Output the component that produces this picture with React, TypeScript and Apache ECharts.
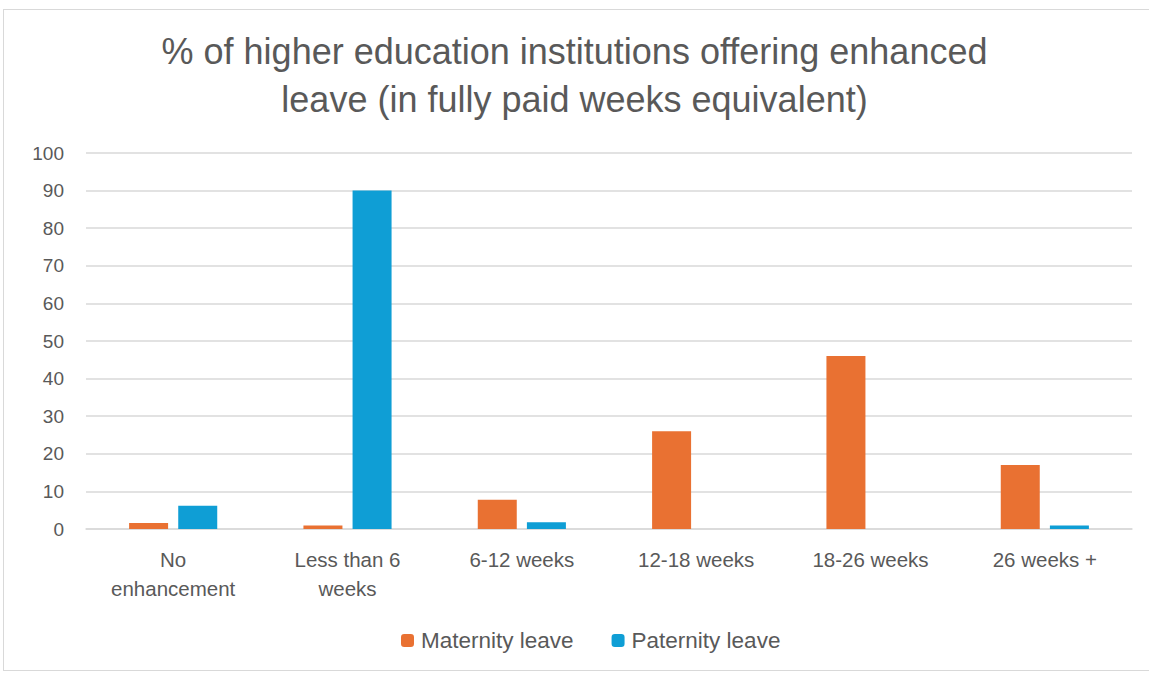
import React, { useEffect, useRef } from "react";
import * as echarts from "echarts";

const categories = ["No\nenhancement", "Less than 6\nweeks", "6-12 weeks", "12-18 weeks", "18-26 weeks", "26 weeks +"];
const maternity = [1.6, 0.9, 7.8, 26, 46, 17];
const paternity = [6.2, 90, 1.8, 0, 0, 0.9];
const titleText = "% of higher education institutions offering enhanced\nleave (in fully paid weeks equivalent)";

export default function App() {
  const ref = useRef<HTMLDivElement>(null);
  useEffect(() => {
    const chart = echarts.init(ref.current!, null, { renderer: "svg" });
    const font = "'Liberation Sans', Arial, sans-serif";
    chart.setOption({
      animation: false,
      textStyle: { fontFamily: font },
      title: {
        text: titleText,
        left: "center",
        top: 22,
        textStyle: { fontSize: 36, fontWeight: "normal", color: "#595959", lineHeight: 48, fontFamily: font },
      },
      legend: {
        bottom: 18,
        left: 396,
        itemWidth: 13,
        itemHeight: 13,
        itemGap: 38,
        textStyle: { fontSize: 22.5, color: "#595959", fontFamily: font, padding: [0, 0, 0, 2] },
        data: ["Maternity leave", "Paternity leave"],
      },
      grid: { left: 86, right: 17, top: 153, bottom: 146 },
      xAxis: {
        type: "category",
        data: categories,
        axisLine: { lineStyle: { color: "#d9d9d9", width: 1.5 } },
        axisTick: { show: false },
        axisLabel: { fontSize: 20.5, color: "#595959", lineHeight: 29, margin: 16, fontFamily: font },
      },
      yAxis: {
        type: "value",
        min: 0,
        max: 100,
        interval: 10,
        axisLine: { show: false },
        axisTick: { show: false },
        splitLine: { lineStyle: { color: "#d9d9d9", width: 1.5 } },
        axisLabel: { fontSize: 19, color: "#595959", margin: 22, fontFamily: font },
      },
      series: [
        { name: "Maternity leave", type: "bar", data: maternity, barWidth: 39, barGap: "26%", itemStyle: { color: "#E97132" } },
        { name: "Paternity leave", type: "bar", data: paternity, barWidth: 39, itemStyle: { color: "#0F9ED5" } },
      ],
    });
    return () => chart.dispose();
  }, []);
  return (
    <div style={{ position: "absolute", left: 0, top: 0, width: 1149, height: 675, background: "#fff" }}>
      <div
        style={{
          position: "absolute",
          left: 3,
          top: 9,
          width: 1160,
          height: 662,
          border: "1px solid #d9d9d9",
          boxSizing: "border-box",
        }}
      />
      <div ref={ref} style={{ position: "absolute", left: 0, top: 0, width: 1149, height: 675 }} />
    </div>
  );
}
